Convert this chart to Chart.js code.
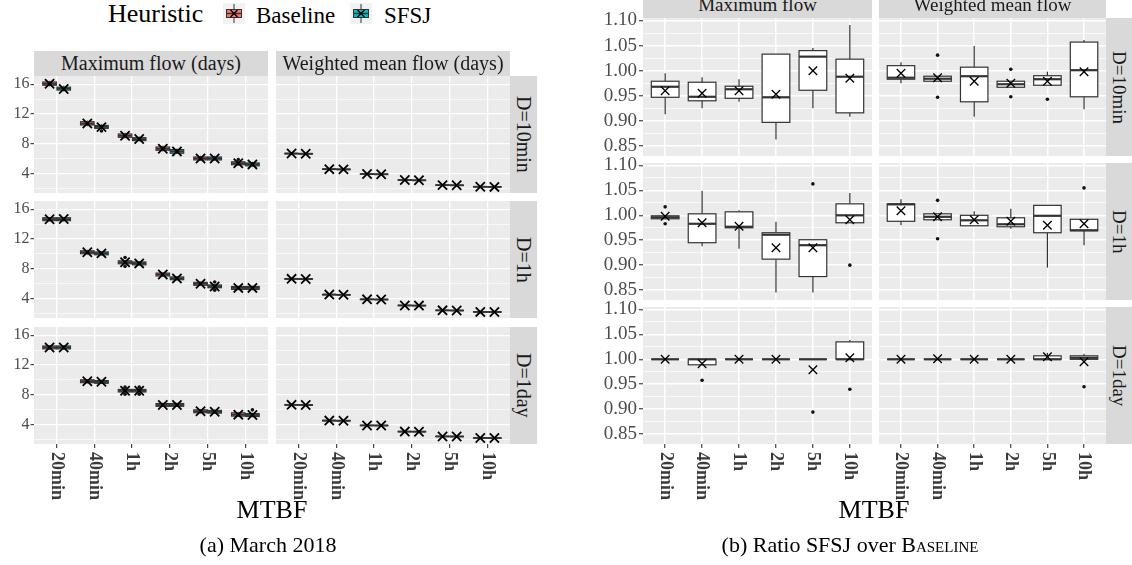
<!DOCTYPE html>
<html lang="en">
<head>
<meta charset="UTF-8">
<title>Flow time by MTBF</title>
<script src="https://cdn.jsdelivr.net/npm/chart.js"></script>
<style>
  body { margin: 0; width: 1132px; height: 565px; position: relative; overflow: hidden; background: #fff;
         font-family: "Liberation Serif", "Times New Roman", serif; color: #000; }
  canvas { position: absolute; }
  .txt { position: absolute; white-space: nowrap; line-height: 1; }
  .strip { position: absolute; background: #D9D9D9; color: #1A1A1A; display: flex; align-items: center;
           justify-content: center; white-space: nowrap; overflow: hidden; font-size: 20px; }
  .strip.v { writing-mode: vertical-rl; }
  .key { position: absolute; }
</style>
</head>
<body>

<div class="txt" style="left:108px; top:1px; font-size:26px;">Heuristic</div>
<svg class="key" style="left:223px; top:3px;" width="22" height="21">
  <rect x="0" y="0" width="22" height="21" fill="#F2F2F2"/>
  <line x1="11" y1="1" x2="11" y2="20" stroke="#333" stroke-width="1"/>
  <rect x="3.5" y="6.5" width="15" height="8" fill="#F8766D" stroke="#333" stroke-width="1"/>
  <line x1="3.5" y1="10.5" x2="18.5" y2="10.5" stroke="#333" stroke-width="1.4"/>
  <path d="M7.5 7 L14.5 14 M14.5 7 L7.5 14" stroke="#000" stroke-width="1.3"/>
</svg>
<div class="txt" style="left:256px; top:4px; font-size:23px;">Baseline</div>
<svg class="key" style="left:350px; top:3px;" width="22" height="21">
  <rect x="0" y="0" width="22" height="21" fill="#F2F2F2"/>
  <line x1="11" y1="1" x2="11" y2="20" stroke="#333" stroke-width="1"/>
  <rect x="3.5" y="6.5" width="15" height="8" fill="#00BFC4" stroke="#333" stroke-width="1"/>
  <line x1="3.5" y1="10.5" x2="18.5" y2="10.5" stroke="#333" stroke-width="1.4"/>
  <path d="M7.5 7 L14.5 14 M14.5 7 L7.5 14" stroke="#000" stroke-width="1.3"/>
</svg>
<div class="txt" style="left:384px; top:4px; font-size:23px;">SFSJ</div>

<script>
const mtbf = ['20min', '40min', '1h', '2h', '5h', '10h'];
const delays = ['D=10min', 'D=1h', 'D=1day'];
const heuristicColors = ['#F8766D', '#00BFC4'];

const flowTicks = [2, 4, 6, 8, 10, 12, 14, 16];
const flowLabels = ['', '4', '', '8', '', '12', '', '16'];
const ratioTicks = [0.85, 0.875, 0.9, 0.925, 0.95, 0.975, 1.0, 1.025, 1.05, 1.075, 1.1];
const ratioLabels = ['0.85', '', '0.90', '', '0.95', '', '1.00', '', '1.05', '', '1.10'];

// each entry: [lower whisker, q1, median, q3, upper whisker, mean], one per MTBF
const maxBase10min = [
  [15.7, 15.85, 16.05, 16.3, 16.45, 16.05],
  [10.35, 10.5, 10.7, 10.95, 11.1, 10.7],
  [8.7, 8.85, 9.05, 9.3, 9.45, 9.05],
  [6.95, 7.1, 7.3, 7.55, 7.7, 7.3],
  [5.7, 5.8, 6.0, 6.2, 6.35, 6.0],
  [5.0, 5.15, 5.35, 5.55, 5.7, 5.36]
];
const maxSfsj10min = [
  [15.0, 15.2, 15.4, 15.6, 15.8, 15.36],
  [9.9, 10.05, 10.25, 10.45, 10.6, 10.22],
  [8.3, 8.4, 8.6, 8.8, 8.95, 8.62],
  [6.6, 6.7, 6.95, 7.2, 7.35, 6.95],
  [5.7, 5.8, 6.0, 6.2, 6.35, 6.0],
  [4.9, 5.0, 5.2, 5.4, 5.55, 5.2]
];
const wmeanBase10min = [
  [6.58, 6.62, 6.66, 6.7, 6.74, 6.66],
  [4.48, 4.52, 4.56, 4.6, 4.64, 4.56],
  [3.83, 3.87, 3.9, 3.93, 3.97, 3.9],
  [3.03, 3.06, 3.09, 3.12, 3.15, 3.09],
  [2.35, 2.38, 2.41, 2.44, 2.47, 2.41],
  [2.13, 2.16, 2.19, 2.22, 2.25, 2.19]
];
const wmeanSfsj10min = [
  [6.55, 6.59, 6.63, 6.67, 6.71, 6.63],
  [4.45, 4.49, 4.53, 4.57, 4.61, 4.53],
  [3.8, 3.84, 3.87, 3.9, 3.94, 3.87],
  [3.0, 3.03, 3.06, 3.09, 3.12, 3.06],
  [2.33, 2.36, 2.39, 2.42, 2.45, 2.39],
  [2.11, 2.14, 2.17, 2.2, 2.23, 2.17]
];

const maxBase1h = [
  [14.35, 14.45, 14.65, 14.85, 14.95, 14.65],
  [9.85, 10.0, 10.2, 10.4, 10.55, 10.2],
  [8.55, 8.65, 8.85, 9.05, 9.15, 8.85],
  [6.9, 7.0, 7.2, 7.4, 7.5, 7.2],
  [5.65, 5.75, 5.95, 6.15, 6.25, 5.95],
  [5.1, 5.2, 5.4, 5.6, 5.7, 5.4]
];
const maxSfsj1h = [
  [14.35, 14.45, 14.65, 14.85, 14.95, 14.68],
  [9.75, 9.85, 10.05, 10.25, 10.35, 10.05],
  [8.4, 8.5, 8.7, 8.9, 9.0, 8.7],
  [6.4, 6.5, 6.68, 6.88, 7.0, 6.68],
  [5.3, 5.42, 5.6, 5.8, 5.9, 5.6],
  [5.1, 5.2, 5.4, 5.6, 5.7, 5.4]
];
const wmeanBase1h = [
  [6.54, 6.58, 6.62, 6.66, 6.7, 6.62],
  [4.42, 4.46, 4.5, 4.54, 4.58, 4.5],
  [3.79, 3.83, 3.86, 3.89, 3.93, 3.86],
  [2.98, 3.01, 3.04, 3.07, 3.1, 3.04],
  [2.32, 2.35, 2.38, 2.41, 2.44, 2.38],
  [2.11, 2.14, 2.17, 2.2, 2.23, 2.17]
];
const wmeanSfsj1h = [
  [6.52, 6.56, 6.6, 6.64, 6.68, 6.6],
  [4.39, 4.43, 4.47, 4.51, 4.55, 4.47],
  [3.77, 3.81, 3.84, 3.87, 3.91, 3.84],
  [2.96, 2.99, 3.02, 3.05, 3.08, 3.02],
  [2.3, 2.33, 2.36, 2.39, 2.42, 2.36],
  [2.1, 2.13, 2.16, 2.19, 2.22, 2.16]
];

const maxBase1day = [
  [14.05, 14.15, 14.35, 14.55, 14.65, 14.35],
  [9.5, 9.6, 9.8, 10.0, 10.1, 9.8],
  [8.25, 8.35, 8.52, 8.7, 8.8, 8.52],
  [6.32, 6.42, 6.6, 6.8, 6.9, 6.6],
  [5.45, 5.55, 5.75, 5.95, 6.05, 5.77],
  [5.0, 5.1, 5.3, 5.55, 5.6, 5.3]
];
const maxSfsj1day = [
  [14.05, 14.15, 14.35, 14.55, 14.65, 14.35],
  [9.42, 9.52, 9.7, 9.9, 10.0, 9.72],
  [8.25, 8.35, 8.52, 8.7, 8.8, 8.52],
  [6.32, 6.42, 6.6, 6.8, 6.9, 6.6],
  [5.4, 5.5, 5.68, 5.88, 5.98, 5.7],
  [4.95, 5.05, 5.25, 5.45, 5.55, 5.25]
];
const wmeanBase1day = [
  [6.54, 6.58, 6.62, 6.66, 6.7, 6.62],
  [4.42, 4.46, 4.5, 4.54, 4.58, 4.5],
  [3.78, 3.82, 3.85, 3.88, 3.92, 3.85],
  [2.96, 2.99, 3.02, 3.05, 3.08, 3.02],
  [2.31, 2.34, 2.37, 2.4, 2.43, 2.37],
  [2.1, 2.13, 2.16, 2.19, 2.22, 2.16]
];
const wmeanSfsj1day = [
  [6.52, 6.56, 6.6, 6.64, 6.68, 6.6],
  [4.4, 4.44, 4.48, 4.52, 4.56, 4.48],
  [3.77, 3.81, 3.84, 3.87, 3.91, 3.84],
  [2.95, 2.98, 3.01, 3.04, 3.07, 3.01],
  [2.3, 2.33, 2.36, 2.39, 2.42, 2.36],
  [2.09, 2.12, 2.15, 2.18, 2.21, 2.15]
];

// outliers: [MTBF index (1-6), heuristic (0 Baseline, 1 SFSJ), value]
const maxOut10min = [[2, 1, 9.7], [6, 0, 5.85]];
const maxOut1h = [[3, 0, 9.5], [3, 0, 8.3], [5, 1, 6.2], [5, 1, 5.1]];
const maxOut1day = [[3, 0, 9.0], [3, 0, 8.05], [3, 1, 9.0], [3, 1, 8.05], [6, 1, 5.95]];

// ratio SFSJ over Baseline, same layout: [lower whisker, q1, median, q3, upper whisker, mean]
const ratioMax10min = [
  [0.913, 0.947, 0.968, 0.979, 0.995, 0.960],
  [0.925, 0.940, 0.948, 0.977, 0.987, 0.955],
  [0.938, 0.945, 0.963, 0.969, 0.983, 0.960],
  [0.863, 0.897, 0.947, 1.033, 1.033, 0.953],
  [0.925, 0.961, 1.028, 1.040, 1.045, 1.000],
  [0.908, 0.916, 0.988, 1.023, 1.091, 0.985]
];
const ratioWmean10min = [
  [0.975, 0.983, 0.986, 1.010, 1.017, 0.995],
  [0.979, 0.979, 0.984, 0.989, 0.989, 0.986],
  [0.908, 0.938, 0.989, 1.007, 1.049, 0.979],
  [0.967, 0.967, 0.973, 0.979, 0.979, 0.975],
  [0.971, 0.971, 0.983, 0.990, 0.998, 0.979],
  [0.923, 0.948, 1.001, 1.057, 1.061, 0.998]
];
const ratioMax1h = [
  [0.993, 0.993, 0.996, 0.999, 0.999, 0.998],
  [0.938, 0.945, 0.983, 1.003, 1.049, 0.985],
  [0.933, 0.975, 0.977, 1.007, 1.010, 0.978],
  [0.845, 0.912, 0.961, 0.965, 0.987, 0.935],
  [0.845, 0.877, 0.940, 0.951, 0.951, 0.935],
  [0.985, 0.985, 1.000, 1.023, 1.045, 0.991]
];
const ratioWmean1h = [
  [0.980, 0.988, 1.022, 1.023, 1.032, 1.009],
  [0.991, 0.991, 0.997, 1.003, 1.003, 0.997],
  [0.979, 0.979, 0.990, 1.000, 1.008, 0.991],
  [0.973, 0.977, 0.982, 0.995, 1.013, 0.988],
  [0.895, 0.965, 0.999, 1.020, 1.020, 0.980],
  [0.940, 0.969, 0.970, 0.992, 0.992, 0.983]
];
const ratioMax1day = [
  [1.0, 1.0, 1.0, 1.0, 1.0, 1.0],
  [0.989, 0.989, 1.0, 1.0, 1.0, 0.991],
  [1.0, 1.0, 1.0, 1.0, 1.0, 1.0],
  [1.0, 1.0, 1.0, 1.0, 1.0, 1.0],
  [1.0, 1.0, 1.0, 1.0, 1.0, 0.979],
  [1.0, 1.0, 1.0, 1.035, 1.039, 1.003]
];
const ratioWmean1day = [
  [1.0, 1.0, 1.0, 1.0, 1.0, 1.0],
  [1.0, 1.0, 1.0, 1.0, 1.0, 1.001],
  [1.0, 1.0, 1.0, 1.0, 1.0, 1.0],
  [1.0, 1.0, 1.0, 1.0, 1.0, 1.0],
  [1.0, 1.0, 1.0, 1.007, 1.013, 1.005],
  [1.0, 1.0, 1.003, 1.007, 1.011, 0.995]
];

// outliers: [MTBF index (1-6), value]
const ratioMaxOut10min = [];
const ratioWmeanOut10min = [[2, 1.031], [2, 0.947], [4, 1.003], [4, 0.948], [5, 0.943]];
const ratioMaxOut1h = [[1, 1.017], [1, 0.983], [5, 1.063], [6, 0.900]];
const ratioWmeanOut1h = [[2, 1.030], [2, 0.953], [6, 1.055]];
const ratioMaxOut1day = [[2, 0.958], [5, 0.894], [6, 0.940]];
const ratioWmeanOut1day = [[6, 0.945]];

Chart.defaults.font.family = '"Liberation Serif", "Times New Roman", serif';

function addDiv(cls, text, css) {
  const d = document.createElement('div');
  d.className = cls;
  d.textContent = text;
  d.style.cssText = css;
  document.body.appendChild(d);
  return d;
}

function drawBox(ctx, xs, ys, b) {
  const [lo, q1, med, q3, hi] = b.stats;
  const cx = xs.getPixelForValue(b.x);
  const half = xs.getPixelForValue(b.x + b.w / 2) - cx;
  const yLo = ys.getPixelForValue(lo), yQ1 = ys.getPixelForValue(q1);
  const yMed = ys.getPixelForValue(med);
  const yQ3 = ys.getPixelForValue(q3), yHi = ys.getPixelForValue(hi);
  ctx.strokeStyle = '#333333';
  ctx.lineWidth = b.lw;
  ctx.beginPath();
  ctx.moveTo(cx, yHi); ctx.lineTo(cx, yQ3);
  ctx.moveTo(cx, yQ1); ctx.lineTo(cx, yLo);
  ctx.stroke();
  ctx.fillStyle = b.fill;
  ctx.fillRect(cx - half, yQ3, 2 * half, yQ1 - yQ3);
  ctx.strokeRect(cx - half, yQ3, 2 * half, yQ1 - yQ3);
  ctx.lineWidth = b.medW;
  ctx.beginPath();
  ctx.moveTo(cx - half, yMed); ctx.lineTo(cx + half, yMed);
  ctx.stroke();
}

// scales get a fixed size and no label overhang, so every panel lines up
function fixSize(size, horizontal) {
  return s => {
    if (horizontal) s.height = size; else s.width = size;
    s.paddingTop = 0; s.paddingBottom = 0; s.paddingLeft = 0; s.paddingRight = 0;
  };
}

// one facet panel = one chart; boxes are drawn from the chart's own scales
function panel(p) {
  const extraB = p.bottom ? 80 : 0;
  const extraT = p.yAxisW > 0 ? 12 : 0;   // room for the top tick label
  const canvas = document.createElement('canvas');
  canvas.width = p.w + p.yAxisW;
  canvas.height = p.h + extraB + extraT;
  canvas.style.left = (p.x - p.yAxisW) + 'px';
  canvas.style.top = (p.y - extraT) + 'px';
  document.body.appendChild(canvas);

  const panelPlugin = {
    id: 'facet',
    beforeDraw(chart) {
      const a = chart.chartArea, ctx = chart.ctx;
      ctx.save();
      ctx.fillStyle = '#EBEBEB';
      ctx.fillRect(a.left, a.top, a.right - a.left, a.bottom - a.top);
      ctx.restore();
    },
    beforeDatasetsDraw(chart) {
      const ctx = chart.ctx;
      ctx.save();
      p.boxes.forEach(b => drawBox(ctx, chart.scales.x, chart.scales.y, b));
      ctx.restore();
    },
    afterDraw(chart) {
      if (!p.bottom) return;
      const ctx = chart.ctx, xs = chart.scales.x;
      ctx.save();
      ctx.fillStyle = '#3A3A3A';
      ctx.font = 'bold 18px "Liberation Serif"';
      ctx.textAlign = 'left';
      ctx.textBaseline = 'middle';
      mtbf.forEach((lab, i) => {
        ctx.save();
        ctx.translate(xs.getPixelForValue(i + 1), chart.chartArea.bottom + 8);
        ctx.rotate(Math.PI / 2);
        ctx.fillText(lab, 0, 0);
        ctx.restore();
      });
      ctx.restore();
    }
  };

  const isMajor = ctx => p.labels[ctx.index] !== '';

  new Chart(canvas, {
    type: 'scatter',
    data: {
      datasets: [
        { data: p.outliers, pointStyle: 'circle', radius: 1.8, borderWidth: 0, backgroundColor: '#111' },
        { data: p.means, pointStyle: 'crossRot', radius: p.markR, borderWidth: p.markW,
          borderColor: '#000', backgroundColor: '#000' }
      ]
    },
    options: {
      responsive: false,
      animation: false,
      events: [],
      layout: { autoPadding: false,
                padding: { left: 0, right: 0, top: extraT, bottom: p.bottom ? extraB - 4 : 0 } },
      plugins: { legend: { display: false }, tooltip: { enabled: false } },
      scales: {
        x: {
          type: 'linear', min: 0.4, max: 6.6,
          afterBuildTicks: s => { s.ticks = mtbf.map((m, i) => ({ value: i + 1 })); },
          afterFit: fixSize(p.bottom ? 4 : 0, true),
          border: { display: false },
          ticks: { display: false },
          grid: { color: '#FFFFFF', lineWidth: p.gridW, drawTicks: p.bottom, tickLength: 4,
                  tickColor: '#333333', tickWidth: 1.1 }
        },
        y: {
          type: 'linear', min: p.yMin, max: p.yMax,
          afterBuildTicks: s => { s.ticks = p.ticks.map(v => ({ value: v })); },
          afterFit: fixSize(p.yAxisW, false),
          border: { display: false },
          ticks: {
            display: p.yAxisW > 0, autoSkip: false, padding: p.tickPad,
            color: '#4D4D4D', font: { size: p.tickSize },
            callback: (v, i) => p.labels[i]
          },
          grid: {
            color: '#FFFFFF',
            lineWidth: ctx => isMajor(ctx) ? p.gridW : p.gridW * 0.5,
            drawTicks: p.yAxisW > 0, tickLength: p.tickLen,
            tickColor: ctx => isMajor(ctx) ? '#333333' : 'rgba(0,0,0,0)',
            tickWidth: 1.1
          }
        }
      }
    },
    plugins: [panelPlugin]
  });
}

// (a) flow times, two heuristics dodged per MTBF
const flowRows = [
  { max: [maxBase10min, maxSfsj10min], wmean: [wmeanBase10min, wmeanSfsj10min], out: maxOut10min },
  { max: [maxBase1h, maxSfsj1h], wmean: [wmeanBase1h, wmeanSfsj1h], out: maxOut1h },
  { max: [maxBase1day, maxSfsj1day], wmean: [wmeanBase1day, wmeanSfsj1day], out: maxOut1day }
];
const flowCols = [[34, 268], [276, 510]];
const flowRowY = [[76, 193], [201, 318], [327, 444]];
const dodge = [-0.1875, 0.1875];

flowRows.forEach((row, r) => {
  [row.max, row.wmean].forEach((series, c) => {
    const boxes = [], means = [];
    series.forEach((stats, h) => {
      stats.forEach((s, i) => {
        boxes.push({ x: i + 1 + dodge[h], w: 0.36, stats: s, fill: heuristicColors[h], lw: 1.1, medW: 1.8 });
        means.push({ x: i + 1 + dodge[h], y: s[5] });
      });
    });
    const outliers = c === 0 ? row.out.map(o => ({ x: o[0] + dodge[o[1]], y: o[2] })) : [];
    panel({
      x: flowCols[c][0], y: flowRowY[r][0], w: flowCols[c][1] - flowCols[c][0], h: flowRowY[r][1] - flowRowY[r][0],
      yAxisW: c === 0 ? 34 : 0, bottom: r === 2, yMin: 1.35, yMax: 17.1,
      ticks: flowTicks, labels: flowLabels, tickSize: 16, tickLen: 3.5, tickPad: 1, gridW: 1.3,
      boxes, means, outliers, markR: 6.5, markW: 1.8
    });
  });
});

// (b) ratio SFSJ over Baseline
const ratioRows = [
  { max: ratioMax10min, wmean: ratioWmean10min, out: [ratioMaxOut10min, ratioWmeanOut10min] },
  { max: ratioMax1h, wmean: ratioWmean1h, out: [ratioMaxOut1h, ratioWmeanOut1h] },
  { max: ratioMax1day, wmean: ratioWmean1day, out: [ratioMaxOut1day, ratioWmeanOut1day] }
];
const ratioCols = [[643, 872], [879, 1106]];
const ratioRowY = [[18, 156], [163, 300], [307, 444]];

ratioRows.forEach((row, r) => {
  [row.max, row.wmean].forEach((stats, c) => {
    const boxes = stats.map((s, i) => ({ x: i + 1, w: 0.75, stats: s, fill: '#FFFFFF', lw: 1.2, medW: 2.2 }));
    const means = stats.map((s, i) => ({ x: i + 1, y: s[5] }));
    const outliers = row.out[c].map(o => ({ x: o[0], y: o[1] }));
    panel({
      x: ratioCols[c][0], y: ratioRowY[r][0], w: ratioCols[c][1] - ratioCols[c][0], h: ratioRowY[r][1] - ratioRowY[r][0],
      yAxisW: c === 0 ? 55 : 0, bottom: r === 2, yMin: 0.83, yMax: 1.105,
      ticks: ratioTicks, labels: ratioLabels, tickSize: 19, tickLen: 4, tickPad: 2, gridW: 1.5,
      boxes, means, outliers, markR: 6, markW: 1.3
    });
  });
});

// facet strips
addDiv('strip', 'Maximum flow (days)', 'left:34px; top:51px; width:234px; height:25px;');
addDiv('strip', 'Weighted mean flow (days)', 'left:276px; top:51px; width:234px; height:25px;');
addDiv('strip', 'Maximum flow', 'left:643px; top:-8px; width:229px; height:26px; font-size:19px;');
addDiv('strip', 'Weighted mean flow', 'left:879px; top:-8px; width:227px; height:26px; font-size:19px;');
delays.forEach((d, r) => {
  addDiv('strip v', d, `left:510px; top:${flowRowY[r][0]}px; width:27px; height:${flowRowY[r][1] - flowRowY[r][0]}px;`);
  addDiv('strip v', d, `left:1106px; top:${ratioRowY[r][0]}px; width:26px; height:${ratioRowY[r][1] - ratioRowY[r][0]}px; font-size:19px;`);
});

// axis titles and sub-captions
addDiv('txt', 'MTBF', 'left:222px; width:100px; text-align:center; top:497px; font-size:26px;');
addDiv('txt', 'MTBF', 'left:824px; width:100px; text-align:center; top:497px; font-size:26px;');
addDiv('txt', '(a) March 2018', 'left:118px; width:300px; text-align:center; top:534px; font-size:22px;');
const capB = addDiv('txt', '', 'left:700px; width:300px; text-align:center; top:534px; font-size:22px;');
capB.innerHTML = '(b) Ratio SFSJ over <span style="font-variant:small-caps">Baseline</span>';
</script>
</body>
</html>
